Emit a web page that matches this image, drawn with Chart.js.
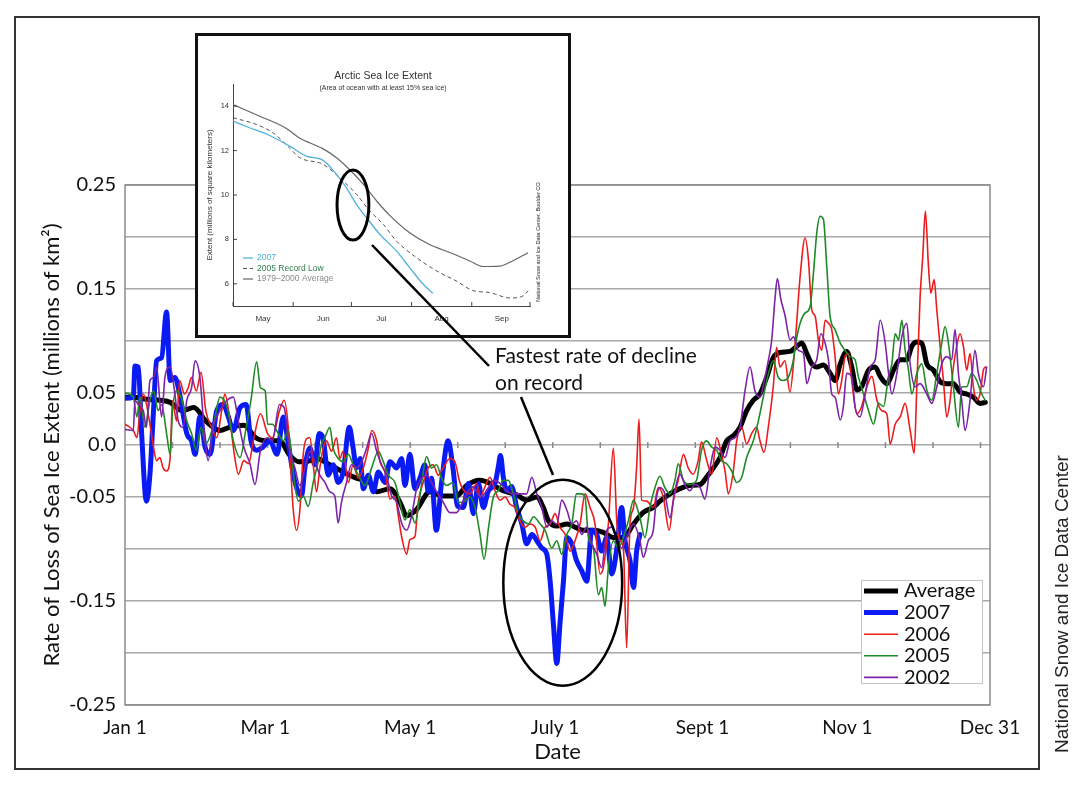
<!DOCTYPE html>
<html lang="en">
<head>
<meta charset="UTF-8">
<title>Rate of Loss of Sea Ice Extent</title>
<script src="https://cdn.jsdelivr.net/npm/chart.js"></script>
<style>
    html, body { margin: 0; padding: 0; background: #fff; overflow: hidden; }
    #page { position: relative; width: 1086px; height: 800px; }
    .abs { position: absolute; }
    #frame { left: 14px; top: 16px; width: 1026px; height: 754px; border: 2px solid #333; box-sizing: border-box; }
    #mainWrap { left: 0; top: 0; width: 1086px; height: 800px; }
    #insetBox { left: 195px; top: 33px; width: 376px; height: 305px; border: 3px solid #111; box-sizing: border-box; background: #fff; }
    #insetWrap { left: 0; top: 0; width: 370px; height: 299px; }
    .insetTitle { left: 0; width: 370px; text-align: center; font-family: "Liberation Sans", Arial, sans-serif; color: #333; }
    .rot { white-space: nowrap; transform: translate(-50%, -50%) rotate(-90deg); }
    #note { left: 495px; top: 341px; font-family: Lato, sans-serif; font-size: 21px; line-height: 27px; color: #111; }
    #overlay { left: 0; top: 0; pointer-events: none; }
</style>
</head>
<body>
<div id="page">
    <div id="frame" class="abs"></div>
    <div id="mainWrap" class="abs"><canvas id="mainChart"></canvas></div>

    <div id="insetBox" class="abs">
        <div id="insetWrap" class="abs"><canvas id="insetChart"></canvas></div>
        <div class="abs insetTitle" style="top:33px; font-size:10.5px; line-height:12px;">Arctic Sea Ice Extent</div>
        <div class="abs insetTitle" style="top:47px; font-size:7px; line-height:9px;">(Area of ocean with at least 15% sea ice)</div>
        <div class="abs rot" style="left:340px; top:206px; font-family:'Liberation Sans',Arial,sans-serif; font-size:5.6px; color:#222;">National Snow and Ice Data Center, Boulder CO</div>
    </div>

    <div id="note" class="abs">Fastest rate of decline<br>on record</div>
    <div class="abs rot" style="left:1062px; top:604px; font-family:'Liberation Sans',Arial,sans-serif; font-size:19px; color:#222;">National Snow and Ice Data Center</div>

    <svg id="overlay" class="abs" width="1086" height="800">
        <line x1="372" y1="245" x2="489" y2="366" stroke="#000" stroke-width="2.5"/>
        <line x1="521" y1="397" x2="553" y2="475" stroke="#000" stroke-width="2.5"/>
    </svg>
</div>

<script>
    // main chart: day of year, rate of loss (millions of km2)
    const avgLoss = [[0,0.046],[3.5,0.046],[9,0.044],[14.7,0.043],[19,0.041],[24,0.033],[29,0.036],[34,0.023],[40,0.014],[44,0.017],[50,0.019],[55,0.007],[60,0.004],[65,0.004],[69.4,-0.01],[73,-0.016],[76.4,-0.016],[80.6,-0.013],[86.2,-0.019],[91.8,-0.026],[97.4,-0.032],[103,-0.036],[105.9,-0.045],[111.5,-0.042],[115.7,-0.055],[118.5,-0.068],[122.7,-0.062],[128.3,-0.045],[133.9,-0.049],[139.5,-0.049],[143.7,-0.039],[149.4,-0.034],[153.6,-0.037],[159.2,-0.044],[164.8,-0.048],[169,-0.053],[173.3,-0.05],[176,-0.06],[178.2,-0.073],[181.7,-0.078],[186,-0.076],[189.4,-0.079],[193,-0.082],[197,-0.082],[201.3,-0.084],[205.5,-0.089],[209.7,-0.089],[214,-0.076],[218,-0.065],[222.3,-0.06],[225.1,-0.054],[229.3,-0.047],[233.5,-0.042],[237.7,-0.039],[242,-0.038],[244.7,-0.031],[247.6,-0.022],[250.4,-0.012],[253.2,0.004],[256,0.009],[258.8,0.017],[261.6,0.033],[264.4,0.043],[267.2,0.049],[270,0.065],[272.8,0.084],[275.6,0.089],[279.9,0.09],[282.7,0.095],[284.8,0.098],[286.9,0.088],[289,0.078],[291.1,0.075],[293.9,0.077],[296.7,0.069],[298.8,0.062],[301,0.078],[303.7,0.09],[305.8,0.075],[308,0.053],[310,0.056],[312.9,0.072],[315.7,0.075],[317.8,0.066],[320.6,0.059],[323.4,0.072],[326.2,0.082],[329,0.082],[331.1,0.095],[333.2,0.099],[335.3,0.098],[337.4,0.078],[340.2,0.072],[343,0.061],[345.8,0.059],[348.6,0.059],[351.4,0.051],[354.2,0.049],[357,0.046],[359.8,0.04],[362,0.041]];

    const loss2007 = [[0,0.045],[3.5,0.046],[4.2,0.076],[5.6,0.075],[7,0.011],[9,-0.054],[10.5,-0.028],[12,0.033],[13.3,0.081],[15.4,0.084],[17.5,0.128],[19,0.062],[21,0.065],[23,0.049],[26,0.011],[28,0.004],[29.5,-0.009],[31.5,0.027],[33.7,-0.002],[35.8,-0.009],[38.6,0.033],[41.4,0.039],[43.5,0.027],[45.6,0.014],[48.4,0.036],[51,0.039],[53,0.004],[55.4,-0.005],[58,-0.002],[61,0.004],[64,-0.009],[66.6,0.027],[68.7,0.001],[70.8,-0.028],[72.2,-0.041],[74.3,-0.049],[75.7,-0.022],[77.8,-0.003],[79.9,-0.019],[81.7,0.011],[83.4,0.006],[85.5,-0.029],[87.6,-0.019],[89.7,-0.036],[91.8,-0.026],[94.4,0.017],[96,-0.003],[97.4,-0.022],[98.9,-0.013],[100.3,-0.042],[102.4,-0.029],[104.5,-0.045],[106.6,-0.026],[109.4,-0.036],[111.5,-0.016],[114.3,-0.022],[116.4,-0.013],[117.8,-0.039],[119.9,-0.009],[122,-0.042],[124.1,-0.032],[126.2,-0.019],[127.6,-0.045],[129,-0.032],[131,-0.082],[133.2,-0.036],[136,0.004],[138,-0.022],[140,-0.059],[142.4,-0.06],[144.5,-0.037],[146.6,-0.066],[148.7,-0.037],[150.8,-0.06],[152.9,-0.044],[155.7,-0.037],[157.1,-0.021],[158,-0.01],[159.2,-0.031],[160.6,-0.044],[162.7,-0.04],[164.8,-0.06],[167,-0.076],[169,-0.095],[171.2,-0.086],[173.3,-0.092],[175.4,-0.099],[177.5,-0.105],[178.9,-0.131],[180.3,-0.173],[181.7,-0.21],[183,-0.173],[184.5,-0.131],[185.9,-0.089],[188,-0.095],[190,-0.111],[192.2,-0.121],[194.3,-0.131],[196.4,-0.082],[198.5,-0.086],[200.6,-0.102],[202.7,-0.089],[204.8,-0.124],[207,-0.099],[209,-0.06],[210.4,-0.092],[212.5,-0.111],[214,-0.137],[215.3,-0.102],[216.7,-0.086]];

    const loss2006 = [[0,0.02],[3.5,0.014],[5,0.007],[6.3,0.033],[7.7,0.049],[10,0.027],[12,-0.002],[13.3,-0.015],[14.7,-0.012],[16,-0.022],[17.5,-0.025],[19,-0.012],[20,0.043],[21.7,0.023],[23,0.062],[25,0.049],[26.6,0.055],[28,0.065],[30,0.052],[32,0.07],[34,0.033],[36.5,0.017],[38.6,0.007],[40.7,0.033],[42,0.049],[44,0.027],[46,-0.009],[47.7,-0.028],[50,-0.015],[52,-0.018],[54,0.004],[57,0.03],[60,0.011],[62,0.007],[65,0.033],[67,0.043],[68.7,0.017],[70.8,-0.062],[72.2,-0.082],[73.6,-0.062],[75,-0.009],[76.4,0.006],[77.8,0.007],[79.2,-0.019],[80.6,-0.045],[82,-0.022],[83.4,-0.003],[84.8,0.004],[86.9,-0.006],[89,0.007],[90.4,-0.013],[91.8,-0.006],[94,-0.036],[96,-0.019],[98.2,-0.032],[100.3,-0.022],[102.4,-0.003],[103.8,0.014],[105.9,0.004],[107.3,-0.016],[109.4,-0.026],[111.5,-0.052],[113.6,-0.049],[115,-0.068],[116.4,-0.088],[118.5,-0.105],[119.9,-0.091],[122,-0.088],[123.4,-0.055],[125.5,-0.036],[127.6,-0.022],[129.7,-0.019],[131.8,-0.029],[133.9,-0.022],[136.7,-0.013],[138.8,-0.016],[140.9,-0.036],[143,-0.045],[145.2,-0.047],[148,-0.037],[149.4,-0.05],[151.5,-0.04],[153.6,-0.031],[155.7,-0.044],[157.8,-0.053],[160,-0.05],[162,-0.057],[164.1,-0.06],[166.2,-0.073],[168.3,-0.079],[170.5,-0.076],[172.6,-0.079],[174.7,-0.092],[176.8,-0.079],[178.9,-0.076],[181,-0.066],[183,-0.079],[185.2,-0.086],[187.3,-0.102],[189.4,-0.092],[191.5,-0.076],[193.6,-0.047],[195.7,-0.06],[197.8,-0.076],[199.9,-0.124],[201.3,-0.118],[203.4,-0.076],[205.5,-0.003],[207,-0.076],[208.3,-0.092],[209.7,-0.099],[211.1,-0.195],[212.5,-0.076],[214,-0.06],[215.3,-0.021],[216.3,0.025],[217.4,-0.053],[219.5,-0.054],[222.3,-0.06],[224.4,-0.041],[226.5,-0.05],[229,-0.082],[230.7,-0.054],[232.8,-0.034],[235,-0.009],[237,-0.022],[239.1,-0.028],[241.2,-0.015],[242.6,0.003],[244.8,-0.015],[246.9,-0.028],[249,0.007],[251,-0.009],[252.5,-0.025],[253.9,-0.047],[256,-0.025],[257.4,0.004],[259.5,0.017],[261.6,0.001],[263.7,0.011],[265.8,0.017],[267.2,0.004],[268.9,-0.007],[270.7,0.017],[272.8,0.056],[274.2,0.094],[275.6,0.075],[277.7,0.081],[279.8,0.051],[282,0.098],[284.1,0.162],[286.2,0.199],[287.6,0.178],[289,0.13],[290.4,0.124],[291.8,0.101],[293.2,0.091],[294.6,0.12],[296,0.117],[297.4,0.111],[298.8,0.085],[300.2,0.049],[301.6,0.062],[303,0.085],[304.4,0.088],[305.8,0.062],[308,0.03],[310,0.037],[312.2,0.056],[314.3,0.066],[316.4,0.043],[318.5,0.033],[320.6,0.03],[322,0.001],[324.1,0.02],[326.2,0.027],[328.3,0.04],[330.4,0.014],[332.1,-0.008],[333.2,0.056],[334.6,0.143],[335.7,0.181],[336.8,0.225],[338.1,0.172],[339.1,0.146],[340.5,0.159],[341.6,0.13],[343,0.095],[344.4,0.062],[345.8,0.027],[347.2,0.043],[348.6,0.075],[350,0.095],[351.4,0.107],[352.8,0.095],[354.2,0.072],[355.6,0.088],[357,0.056],[358.4,0.043],[359.8,0.049],[361.2,0.072],[362,0.075]];

    const loss2005 = [[0,0.05],[3.5,0.046],[5,0.027],[6.3,0.046],[8.4,0.017],[10.5,0.043],[12,0.052],[14,0.033],[15.4,0.039],[17.5,0.011],[19,-0.009],[20,0.033],[21.7,0.052],[24,0.043],[26,0.023],[28,0.011],[30,-0.005],[32,0.017],[34,0.001],[37,0.017],[40,0.046],[43,0.036],[45.6,0.004],[48.4,-0.012],[51,0.017],[53,0.043],[55.4,0.08],[57,0.055],[59,0.052],[60,0.02],[62,0.02],[64.5,0.011],[66.6,0.004],[68.7,0.014],[71,-0.031],[73,-0.054],[75,-0.049],[77.1,-0.059],[79.2,-0.036],[81.3,-0.016],[82.7,0.001],[84.1,0.007],[86.2,0.017],[87.6,-0.003],[89.7,-0.013],[91.8,-0.016],[94,-0.009],[96,-0.019],[98.2,-0.029],[101,-0.039],[103.8,-0.022],[106.6,-0.006],[108.7,-0.016],[110.8,-0.029],[113.6,-0.036],[115.7,-0.055],[117.8,-0.072],[119.9,-0.062],[122,-0.075],[124.1,-0.049],[125.5,-0.026],[126.9,-0.011],[129,-0.022],[131.1,-0.019],[133.2,-0.032],[135.3,-0.039],[138,-0.036],[140.2,-0.055],[142.3,-0.055],[145,-0.05],[147.3,-0.06],[149.4,-0.086],[151.1,-0.11],[153,-0.079],[155,-0.05],[157,-0.044],[159.2,-0.034],[161.3,-0.034],[163.4,-0.047],[165.5,-0.066],[167.6,-0.073],[169.8,-0.076],[171.9,-0.069],[174.7,-0.076],[176.8,-0.082],[179.6,-0.099],[181.7,-0.092],[183.8,-0.105],[185.9,-0.086],[188,-0.076],[190,-0.047],[192.2,-0.047],[193.6,-0.05],[195,-0.089],[197.1,-0.099],[199.2,-0.144],[200.6,-0.137],[202,-0.155],[203.4,-0.118],[205.5,-0.092],[207.6,-0.099],[209.7,-0.089],[211.8,-0.073],[214,-0.053],[216.7,-0.07],[218.8,-0.089],[220.9,-0.06],[223,-0.041],[225.1,-0.03],[227.2,-0.041],[229.3,-0.047],[231.4,-0.034],[232.8,-0.018],[235,-0.034],[237.7,-0.038],[240.5,-0.034],[242.6,-0.005],[244.7,0.004],[246.9,-0.002],[249,-0.005],[251,-0.015],[253.2,-0.018],[255.3,-0.025],[257.4,-0.036],[259.5,-0.031],[261.6,-0.012],[264.4,0.004],[266.5,0.023],[268.6,0.046],[270.7,0.068],[272.8,0.081],[274.9,0.065],[277,0.062],[279.1,0.065],[281.2,0.081],[282.5,0.101],[284.1,0.117],[286.2,0.127],[288.3,0.133],[289.7,0.165],[291.1,0.204],[292.5,0.22],[293.9,0.217],[295.3,0.172],[296.7,0.124],[298.8,0.111],[301,0.098],[303,0.091],[305.1,0.085],[307.2,0.082],[308.6,0.066],[310.8,0.049],[312.9,0.033],[315,0.02],[317.1,0.04],[319.2,0.037],[321.3,0.066],[322.7,0.078],[324.1,0.107],[325.5,0.101],[326.9,0.12],[328.3,0.091],[329.7,0.072],[331.1,0.049],[333.2,0.069],[335.3,0.078],[337.4,0.053],[339.5,0.043],[341.6,0.069],[343.7,0.098],[345.1,0.114],[346.5,0.098],[348.6,0.056],[350.7,0.017],[352.1,0.056],[354.2,0.056],[356.3,0.069],[358.4,0.062],[360.5,0.049],[362,0.043]];

    const loss2002 = [[0,0.015],[3.5,0.014],[4.2,0.043],[5.6,0.039],[7.7,0.033],[9,0.017],[10.5,0.062],[12,0.065],[13.3,0.075],[15.4,0.027],[16.8,0.065],[19,0.075],[21,0.049],[22.4,0.023],[24.5,0.017],[26,0.043],[28,0.055],[29.5,0.081],[31.5,0.065],[33.7,0.004],[35,-0.015],[37,0.017],[40,0.033],[43,0.043],[45.6,0.046],[47.7,0.023],[50,-0.002],[52.6,-0.018],[54.7,-0.038],[57,-0.005],[60,0.007],[62,0.004],[65,0.039],[67,0.036],[69,-0.002],[71.5,-0.022],[73.6,-0.039],[75.7,-0.022],[77.8,-0.006],[79.9,-0.016],[82,-0.029],[84.1,-0.036],[86.2,-0.045],[88.3,-0.049],[89.7,-0.075],[91.1,-0.055],[93.2,-0.036],[95.3,-0.019],[97.4,-0.022],[99.6,-0.016],[101.7,-0.003],[103.8,0.011],[105.9,-0.006],[108,-0.019],[110,-0.029],[112.2,-0.049],[114.3,-0.055],[116.4,-0.075],[118.5,-0.082],[120.6,-0.068],[122.7,-0.042],[124.8,-0.032],[126.9,-0.029],[129,-0.036],[131.1,-0.045],[133.9,-0.055],[136.7,-0.065],[139.5,-0.065],[141,-0.06],[143.8,-0.047],[146.6,-0.04],[149.4,-0.05],[152.2,-0.044],[155,-0.034],[157.8,-0.037],[160.6,-0.044],[163.4,-0.047],[166.2,-0.047],[169,-0.047],[171.2,-0.031],[173.3,-0.047],[175.4,-0.06],[177.5,-0.079],[179.6,-0.073],[181.7,-0.076],[183.8,-0.053],[186,-0.063],[188,-0.076],[190,-0.073],[192.2,-0.086],[194.3,-0.079],[196.4,-0.095],[198.5,-0.105],[200.6,-0.118],[202.7,-0.082],[204.8,-0.079],[207,-0.092],[209,-0.099],[211.1,-0.089],[214,-0.076],[216.7,-0.092],[218.1,-0.108],[220.2,-0.092],[222.3,-0.082],[223.7,-0.05],[225.1,-0.041],[227.2,-0.047],[229.3,-0.07],[231.4,-0.044],[233.5,-0.028],[235.6,-0.038],[237.7,-0.044],[239.8,-0.038],[242,-0.041],[244,-0.052],[246.2,-0.022],[248.3,-0.002],[250.4,-0.005],[252.5,-0.012],[254.6,0.004],[256.7,0.007],[258.8,0.017],[260.9,0.052],[263,0.075],[265.1,0.052],[267.2,0.046],[269.3,0.065],[270.7,0.081],[272.1,0.1],[273.5,0.14],[274.5,0.16],[276,0.14],[277.7,0.125],[279.9,0.101],[281.3,0.104],[283.4,0.091],[285.5,0.088],[286.9,0.059],[289,0.075],[291.1,0.082],[292.8,0.107],[294.6,0.098],[296,0.082],[297.4,0.049],[298.8,0.046],[301,0.024],[302.3,0.037],[303.7,0.069],[305.8,0.066],[307.2,0.037],[309.3,0.027],[311.5,0.049],[313.6,0.075],[315.7,0.082],[317.8,0.12],[319.9,0.098],[321.3,0.069],[322.7,0.049],[324.8,0.069],[326.9,0.104],[329,0.117],[330.4,0.078],[332.5,0.056],[334.6,0.059],[337.4,0.049],[339.5,0.04],[341.6,0.056],[343.7,0.078],[345.8,0.085],[347.9,0.082],[349.3,0.111],[350.7,0.069],[352.1,0.043],[353.5,0.014],[355.6,0.043],[357.7,0.091],[359.1,0.069],[361.2,0.056],[362.6,0.075]];

    const xTickDays = [0, 59, 120, 181, 243, 304, 364];
    const xTickLabels = ['Jan 1', 'Mar 1', 'May 1', 'July 1', 'Sept 1', 'Nov 1', 'Dec 31'];
    const yGridValues = [0.25, 0.2, 0.15, 0.1, 0.05, 0, -0.05, -0.1, -0.15, -0.2, -0.25];
    const yTickText = ['0.25', '', '0.15', '', '0.05', '0.0', '-0.05', '', '-0.15', '', '-0.25'];

    // inset: days since May 1, extent (millions of km2)
    const ext2007 = [[0,13.33],[8.6,13.03],[18.9,12.68],[29.2,12.2],[37.8,11.75],[46.4,11.56],[53.3,10.93],[58.4,10.33],[63.6,9.58],[68.8,8.98],[75.6,8.23],[84.2,7.48],[91,6.73],[98,5.98],[103,5.57]];
    const ext2005 = [[0,13.48],[12,13.18],[20.6,12.8],[29,12.13],[34.4,11.68],[46.4,11.38],[56.7,10.63],[63.6,10.03],[70.5,9.28],[77.4,8.68],[84.2,7.93],[94.5,7.18],[104.9,6.58],[115,6.13],[123.8,5.69],[132,5.61],[142.7,5.36],[149.6,5.46],[152,5.69]];
    const extAvg = [[0,14.07],[13.8,13.55],[27.5,13.0],[34,12.58],[46,12.1],[53,11.7],[60,11.15],[67,10.5],[74,9.73],[81,9.06],[91,8.3],[101,7.78],[112,7.4],[122,7.03],[129,6.78],[137.5,6.8],[144,7.03],[152,7.4]];
    const insetMonthStarts = [0, 31, 61, 92, 123, 153];
    const insetMonthLabels = ['May', 'Jun', 'Jul', 'Aug', 'Sep', ''];
    const insetYTicks = [6, 8, 10, 12, 14];

    const toXY = pts => pts.map(([x, y]) => ({ x, y }));

    // --- small plugins ---
    const plotFrame = {
        id: 'plotFrame',
        beforeDatasetsDraw(chart, args, o) {
            const { left, top, right, bottom } = chart.chartArea;
            const ctx = chart.ctx;
            ctx.save();
            ctx.strokeStyle = o.color;
            ctx.lineWidth = o.width;
            ctx.strokeRect(left, top, right - left, bottom - top);
            // small marks along the zero line every 20 days
            if (o.zeroMarks) {
                const xs = chart.scales.x, y0 = chart.scales.y.getPixelForValue(0);
                ctx.beginPath();
                for (let d = 20; d < 364; d += 20) {
                    const px = xs.getPixelForValue(d);
                    ctx.moveTo(px, y0 - 3);
                    ctx.lineTo(px, y0 + 3);
                }
                ctx.stroke();
            }
            ctx.restore();
        }
    };

    const innerTicks = {
        id: 'innerTicks',
        afterDraw(chart, args, o) {
            const { left, bottom } = chart.chartArea;
            const ctx = chart.ctx;
            ctx.save();
            ctx.strokeStyle = o.color;
            ctx.lineWidth = 1;
            ctx.beginPath();
            chart.scales.x.ticks.forEach(t => {
                const px = chart.scales.x.getPixelForValue(t.value);
                ctx.moveTo(px, bottom);
                ctx.lineTo(px, bottom - o.len);
            });
            chart.scales.y.ticks.forEach(t => {
                const py = chart.scales.y.getPixelForValue(t.value);
                ctx.moveTo(left, py);
                ctx.lineTo(left + o.len, py);
            });
            ctx.stroke();
            ctx.restore();
        }
    };

    const ellipse = {
        id: 'ellipse',
        afterDatasetsDraw(chart, args, o) {
            const xs = chart.scales.x, ys = chart.scales.y;
            const cx = xs.getPixelForValue(o.x), cy = ys.getPixelForValue(o.y);
            const rx = Math.abs(xs.getPixelForValue(o.x + o.rx) - cx);
            const ry = Math.abs(ys.getPixelForValue(o.y + o.ry) - cy);
            const ctx = chart.ctx;
            ctx.save();
            ctx.strokeStyle = '#000';
            ctx.lineWidth = o.width;
            ctx.beginPath();
            ctx.ellipse(cx, cy, rx, ry, 0, 0, Math.PI * 2);
            ctx.stroke();
            ctx.restore();
        }
    };

    const boxLegend = {
        id: 'boxLegend',
        afterDraw(chart, args, o) {
            const ctx = chart.ctx;
            ctx.save();
            if (o.box) {
                ctx.fillStyle = '#fff';
                ctx.fillRect(o.box.x, o.box.y, o.box.w, o.box.h);
                ctx.strokeStyle = o.box.color;
                ctx.lineWidth = 1;
                ctx.strokeRect(o.box.x + 0.5, o.box.y + 0.5, o.box.w, o.box.h);
            }
            ctx.font = o.font;
            ctx.textBaseline = 'middle';
            chart.data.datasets.forEach((ds, i) => {
                const y = o.y + i * o.rowHeight;
                ctx.beginPath();
                ctx.strokeStyle = ds.borderColor;
                ctx.lineWidth = ds.borderWidth;
                ctx.setLineDash(ds.borderDash || []);
                ctx.moveTo(o.x, y);
                ctx.lineTo(o.x + o.lineLength, y);
                ctx.stroke();
                ctx.setLineDash([]);
                ctx.fillStyle = (o.textColors && o.textColors[i]) || '#111';
                ctx.fillText(ds.label, o.x + o.lineLength + o.gap, y);
            });
            ctx.restore();
        }
    };

    // --- main chart ---
    new Chart(document.getElementById('mainChart'), {
        type: 'line',
        data: {
            datasets: [
                { label: 'Average', data: toXY(avgLoss), borderColor: '#000000', borderWidth: 5, order: 5 },
                { label: '2007', data: toXY(loss2007), borderColor: '#0a1af2', borderWidth: 5, order: 4 },
                { label: '2006', data: toXY(loss2006), borderColor: '#ec1c1c', borderWidth: 1.6, order: 3 },
                { label: '2005', data: toXY(loss2005), borderColor: '#1f8a26', borderWidth: 1.6, order: 2 },
                { label: '2002', data: toXY(loss2002), borderColor: '#7e22a8', borderWidth: 1.6, order: 1 }
            ]
        },
        options: {
            responsive: true,
            maintainAspectRatio: false,
            animation: false,
            layout: { padding: { left: 39, right: 96, top: 185, bottom: 35 } },
            elements: {
                point: { radius: 0 },
                line: { cubicInterpolationMode: 'monotone', borderJoinStyle: 'round', borderCapStyle: 'round' }
            },
            plugins: {
                legend: { display: false },
                tooltip: { enabled: false },
                plotFrame: { color: '#8a8a8a', width: 1.5, zeroMarks: true },
                ellipse: { x: 184.2, y: -0.1325, rx: 25, ry: 0.099, width: 2.5 },
                boxLegend: {
                    box: { x: 861, y: 580, w: 121, h: 103, color: '#c4c4c4' },
                    x: 864, y: 591, rowHeight: 21.6, lineLength: 34, gap: 6,
                    font: '20px Lato'
                }
            },
            scales: {
                x: {
                    type: 'linear', min: 0, max: 364,
                    grid: { display: false, drawTicks: false },
                    border: { display: false },
                    afterBuildTicks: a => { a.ticks = xTickDays.map(v => ({ value: v })); },
                    afterFit: a => { a.height = 60; },
                    ticks: {
                        autoSkip: false, maxRotation: 0, padding: 11, color: '#111',
                        font: { family: 'Lato', size: 19 },
                        callback: v => xTickLabels[xTickDays.indexOf(v)]
                    },
                    title: { display: true, text: 'Date', color: '#111', font: { family: 'Lato', size: 22 }, padding: 0 }
                },
                y: {
                    type: 'linear', min: -0.25, max: 0.25,
                    grid: { color: '#a8a8a8', lineWidth: 1.5, drawTicks: false },
                    border: { display: false },
                    afterBuildTicks: a => { a.ticks = yGridValues.map(v => ({ value: v })); },
                    afterFit: a => { a.width = 86; },
                    ticks: {
                        padding: 9, color: '#111',
                        font: { family: 'Lato', size: 20 },
                        callback: v => {
                            const i = yGridValues.findIndex(g => Math.abs(g - v) < 1e-9);
                            return i >= 0 ? yTickText[i] : '';
                        }
                    },
                    title: {
                        display: true, text: 'Rate of Loss of Sea Ice Extent (millions of km\u00B2)',
                        color: '#111', font: { family: 'Lato', size: 22 }, padding: 0
                    }
                }
            }
        },
        plugins: [plotFrame, ellipse, boxLegend]
    });

    // --- inset chart ---
    new Chart(document.getElementById('insetChart'), {
        type: 'line',
        data: {
            datasets: [
                { label: '2007', data: toXY(ext2007), borderColor: '#52b0dc', borderWidth: 1.3 },
                { label: '2005 Record Low', data: toXY(ext2005), borderColor: '#555555', borderWidth: 1, borderDash: [4, 3] },
                { label: '1979\u20132000 Average', data: toXY(extAvg), borderColor: '#666666', borderWidth: 1.2 }
            ]
        },
        options: {
            responsive: true,
            maintainAspectRatio: false,
            animation: false,
            layout: { padding: { left: 7, right: 38, top: 48, bottom: 0 } },
            elements: {
                point: { radius: 0 },
                line: { cubicInterpolationMode: 'monotone' }
            },
            plugins: {
                legend: { display: false },
                tooltip: { enabled: false },
                innerTicks: { color: '#444', len: 4 },
                ellipse: { x: 61.8, y: 9.55, rx: 8.2, ry: 1.58, width: 3 },
                boxLegend: {
                    x: 45, y: 222, rowHeight: 10.5, lineLength: 10, gap: 4,
                    font: '8.5px "Liberation Sans"',
                    textColors: ['#4aaedb', '#2e7a4c', '#8a8a8a']
                }
            },
            scales: {
                x: {
                    type: 'linear', min: 0, max: 153,
                    grid: { display: false, drawTicks: false },
                    border: { display: true, color: '#444', width: 1 },
                    afterBuildTicks: a => { a.ticks = insetMonthStarts.map(v => ({ value: v })); },
                    afterFit: a => { a.height = 29; },
                    ticks: {
                        autoSkip: false, maxRotation: 0, labelOffset: 30, padding: 8, color: '#333',
                        font: { family: 'Liberation Sans', size: 8 },
                        callback: v => insetMonthLabels[insetMonthStarts.indexOf(v)]
                    }
                },
                y: {
                    type: 'linear', min: 5, max: 15,
                    grid: { display: false, drawTicks: false },
                    border: { display: true, color: '#444', width: 1 },
                    afterBuildTicks: a => { a.ticks = insetYTicks.map(v => ({ value: v })); },
                    afterFit: a => { a.width = 28; },
                    ticks: { padding: 4, color: '#333', font: { family: 'Liberation Sans', size: 7.5 } },
                    title: {
                        display: true, text: 'Extent (millions of square kilometers)',
                        color: '#333', font: { family: 'Liberation Sans', size: 8 }, padding: 0
                    }
                }
            }
        },
        plugins: [innerTicks, ellipse, boxLegend]
    });
</script>
</body>
</html>
